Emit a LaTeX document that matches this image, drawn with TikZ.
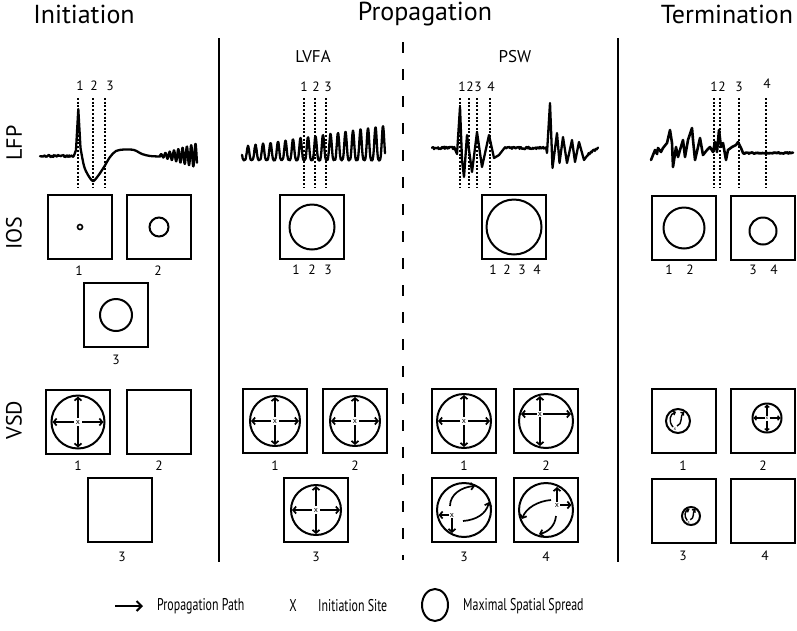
\documentclass[tikz,border=0pt]{standalone}
\usepackage{fontspec}
\setmainfont{PT Sans}
\newfontfamily\legfont[FakeStretch=0.70]{PT Sans}
\usetikzlibrary{arrows.meta}
\tikzset{
  panel/.style={draw, line width=2pt, minimum width=64pt, minimum height=64pt, inner sep=0pt, outer sep=0pt, anchor=north west},
  ring/.style={line width=2pt},
  trace/.style={line width=2.3pt, line join=round, line cap=round},
  marker/.style={line width=2pt, dash pattern=on 2pt off 1.7pt},
  sepline/.style={line width=2pt},
  title/.style={font=\fontsize{26}{30}\selectfont, inner sep=0pt},
  sub/.style={font=\fontsize{17}{20}\selectfont, inner sep=0pt},
  rowlab/.style={font=\fontsize{22}{25}\selectfont, rotate=90, inner sep=0pt},
  num/.style={font=\fontsize{13.5}{15}\selectfont, inner sep=0pt},
  parrow/.style={line width=1.7pt, -{Straight Barb[length=3pt,width=7pt]}},
  sarrow/.style={line width=1.4pt, -{Straight Barb[length=2pt,width=4.5pt]}},
  xmark/.style={font=\fontsize{8}{9}\selectfont, inner sep=0pt},
  leg/.style={font=\legfont\fontsize{17}{20}\selectfont, anchor=west, inner sep=0pt},
}
\newcommand\vsdcross[5]{%
  \begin{scope}[shift={(#2,#3)}]
    \node[xmark] (#1) at (0,0) {x};
    \draw[parrow] (#5,0) -- (#4,0);
    \draw[parrow] (-#5,0) -- (-#4,0);
    \draw[parrow] (0,#5) -- (0,#4);
    \draw[parrow] (0,-#5) -- (0,-#4);
  \end{scope}}
\begin{document}
\begin{tikzpicture}[x=1pt,y=-1pt,
  declare function={sp(\t)=(0.5+0.5*cos(\t))*(0.5+0.5*cos(\t));}]
\useasboundingbox (0,0) rectangle (797,630);

% ---------- headers ----------
\node[title] (hInit) at (84,14) {Initiation};
\node[title] (hProp) at (425,14) {Propagation};
\node[title] (hTerm) at (727,14) {Termination};
\node[sub] (hLVFA) at (313,57) {LVFA};
\node[sub] (hPSW) at (515,57) {PSW};

\node[rowlab] (rLFP) at (14,143) {LFP};
\node[rowlab] (rIOS) at (14,233) {IOS};
\node[rowlab] (rVSD) at (14,420) {VSD};

% ---------- separators ----------
\coordinate (s1t) at (219,38); \coordinate (s1b) at (219,562);
\coordinate (s2t) at (403,42); \coordinate (s2b) at (403,560);
\coordinate (s3t) at (618,38); \coordinate (s3b) at (618,562);
\draw[sepline] (s1t) -- (s1b);
\draw[sepline, dash pattern=on 11pt off 16pt] (s2t) -- (s2b);
\draw[sepline] (s3t) -- (s3b);

% ---------- LFP traces ----------
% Initiation
\draw[trace] plot[domain=40:74,samples=50] (\x,{156+1.1*rand})
  -- (76,150) -- (78.3,109) -- (80.5,148)
  -- plot[smooth] coordinates {(80.5,148) (84,166) (88,175) (93,181) (98,176) (104,167) (110,157) (116,151) (124,149.5) (134,150) (142,154) (150,156) (160,156.5)}
  -- plot[domain=160:197,samples=300] (\x,{155.5-(1+11*(\x-160)/37)*sin(83.72*(\x-160))});
% LVFA
\draw[trace] plot[domain=242:385,samples=600] (\x,{160-(13+21*(\x-242)/143)*sp(48*(\x-248))+0.5*rand});
% PSW
\draw[trace] plot[domain=432:455,samples=35] (\x,{148+1.3*rand})
  -- (457,154) -- (460,107) -- (462,160) -- (464,177) -- (467,135) -- (472,172)
  -- (477,132) -- (482,167) -- (489,135) -- (494,158) -- (499,155)
  -- plot[domain=505:546,samples=60] (\x,{148+1.2*rand})
  -- (547,153) -- (550,103) -- (552.5,168) -- (557,133) -- (559.5,163) -- (563,137)
  -- (567,163) -- (572,140) -- (575,162) -- (579,142) -- (584,160)
  -- plot[domain=587:598,samples=15] (\x,{155-7*(\x-587)/11+1*rand});
% Termination
\draw[trace, line width=2.6pt] (651,160) -- (655,150) -- (657,154) -- (658,148) -- (661,152) -- (663,148)
  -- (667,143) -- (670,130) -- (672,143) -- (673,167) -- (676,147) -- (678,157) -- (680,150)
  -- (683,140) -- (685,157) -- (688,140) -- (692,128) -- (693,140) -- (695,160) -- (698,147)
  -- (700,138) -- (703,155) -- (707,150) -- (710,147) -- (713,152) -- (715,142) -- (717,152)
  -- (719,130) -- (721,147) -- (723,143) -- (726,160) -- (728,150) -- (732,147) -- (736,145)
  -- (738,142) -- (741,148) -- (743,153)
  -- plot[domain=744:793,samples=60] (\x,{153+0.7*rand});

% ---------- LFP markers ----------
\foreach \n/\xm/\xl in {1/78.3/80, 2/92.7/94, 3/105.3/110}{
  \coordinate (mA\n t) at (\xm,98); \coordinate (mA\n b) at (\xm,187);
  \draw[marker] (mA\n t) -- (mA\n b);
  \node[num] (lA\n) at (\xl,86) {\n};}
\foreach \n/\xm/\xl in {1/304/304, 2/315/316, 3/326/328}{
  \coordinate (mL\n t) at (\xm,98); \coordinate (mL\n b) at (\xm,187);
  \draw[marker] (mL\n t) -- (mL\n b);
  \node[num] (lL\n) at (\xl,87) {\n};}
\foreach \n/\xm/\xl in {1/460/462, 2/469/470, 3/477/478, 4/490/491}{
  \coordinate (mP\n t) at (\xm,98); \coordinate (mP\n b) at (\xm,187);
  \draw[marker] (mP\n t) -- (mP\n b);
  \node[num] (lP\n) at (\xl,87) {\n};}
\foreach \n/\xm/\xl/\yl in {1/714.3/714/87, 2/720/722/87, 3/739.3/739/87, 4/765.7/767/84}{
  \coordinate (mT\n t) at (\xm,98); \coordinate (mT\n b) at (\xm,187);
  \draw[marker] (mT\n t) -- (mT\n b);
  \node[num] (lT\n) at (\xl,\yl) {\n};}

% ---------- IOS ----------
\node[panel] (iA1) at (48,195) {};
\node[panel] (iA2) at (127,195) {};
\node[panel] (iA3) at (84,283) {};
\node[panel] (iL) at (280,195) {};
\node[panel] (iP) at (482,195) {};
\node[panel] (iT1) at (652,196) {};
\node[panel] (iT2) at (731,196) {};
\draw[ring, line width=1.6pt] (iA1.center) circle[radius=2.5pt];
\draw[ring] (iA2.center) circle[radius=9.5pt];
\draw[ring] (iA3.center) circle[radius=16pt];
\draw[ring] (iL.center) circle[radius=22.5pt];
\draw[ring] (iP.center) circle[radius=27.5pt];
\draw[ring] (iT1.center) circle[radius=20.5pt];
\coordinate (iT2c) at (763,231);
\draw[ring] (iT2c) circle[radius=13.5pt];
\node[num] (niA1) at (79,271) {1};
\node[num] (niA2) at (158,271) {2};
\node[num] (niA3) at (116,360) {3};
\node[num] (niL1) at (296,270) {1};
\node[num] (niL2) at (312,270) {2};
\node[num] (niL3) at (328,270) {3};
\node[num] (niP1) at (493,270) {1};
\node[num] (niP2) at (507,270) {2};
\node[num] (niP3) at (522,270) {3};
\node[num] (niP4) at (537,270) {4};
\node[num] (niT1) at (669,270) {1};
\node[num] (niT2) at (690,270) {2};
\node[num] (niT3) at (753,270) {3};
\node[num] (niT4) at (774,270) {4};

% ---------- VSD ----------
\node[panel] (vA1) at (46,390) {};
\node[panel] (vA2) at (127,390) {};
\node[panel] (vA3) at (88,478) {};
\node[panel] (vL1) at (243,389) {};
\node[panel] (vL2) at (323,389) {};
\node[panel] (vL3) at (284,478) {};
\node[panel] (vP1) at (432,389) {};
\node[panel] (vP2) at (514,389) {};
\node[panel] (vP3) at (432,478) {};
\node[panel] (vP4) at (514,478) {};
\node[panel] (vT1) at (652,389) {};
\node[panel] (vT2) at (731,389) {};
\node[panel] (vT3) at (652,479) {};
\node[panel] (vT4) at (731,479) {};

\draw[ring] (vA1.center) circle[radius=26.5pt];
\vsdcross{xA1}{78}{422}{25.5}{4}
\draw[ring] (vL1.center) circle[radius=25pt];
\vsdcross{xL1}{275}{421}{24}{4}
\draw[ring] (vL2.center) circle[radius=25pt];
\vsdcross{xL2}{355}{421}{24}{4}
\draw[ring] (vL3.center) circle[radius=25pt];
\vsdcross{xL3}{316}{510}{24}{4}
\draw[ring] (vP1.center) circle[radius=27pt];
\vsdcross{xP1}{464}{421}{26}{4}

\draw[ring] (vP2.center) circle[radius=27pt];
\begin{scope}[shift={(546,421)}]
  \node[xmark] (xP2) at (-6,-7) {x};
  \draw[parrow] (-6,-10) -- (-6,-25);
  \draw[parrow] (-6,-4) -- (-6,25);
  \draw[parrow] (-9,-7) -- (-25,-7);
  \draw[parrow] (-3,-7) -- (25,-7);
\end{scope}

\draw[ring] (vP3.center) circle[radius=27pt];
\begin{scope}[shift={(464,510)}]
  \node[xmark] (xP3) at (-12,5) {x};
  \draw[parrow] (-15,5) -- (-25.5,5);
  \draw[parrow] (-12,8) -- (-12,23);
  \draw[parrow] (-14,-4) .. controls (-14,-16) and (-2,-23) .. (11,-24);
  \draw[parrow] (-1,11) .. controls (12,10) and (22,4) .. (25,-8);
\end{scope}

\draw[ring] (vP4.center) circle[radius=27pt];
\begin{scope}[shift={(546,510)}]
  \node[xmark] (xP4) at (11,-5) {x};
  \draw[parrow] (11,-8) -- (11,-23);
  \draw[parrow] (14,-5) -- (25.5,-5);
  \draw[parrow] (5,-10) .. controls (-8,-9) and (-20,-2) .. (-24,9);
  \draw[parrow] (10,6) .. controls (9,16) and (2,22) .. (-7,24);
\end{scope}

\draw[ring] (678,421) circle[radius=12pt];
\begin{scope}[shift={(678,421)}]
  \node[xmark, font=\fontsize{5}{6}\selectfont] (xT1) at (-3,8) {x};
  \draw[sarrow] (-5,6) .. controls (-10,0) and (-8,-7) .. (-2,-9);
  \draw[sarrow] (-1,5) .. controls (5,3) and (2,-5) .. (6,-9);
\end{scope}

\draw[ring] (767,418) circle[radius=14.5pt];
\begin{scope}[shift={(767,418)}]
  \node[xmark, font=\fontsize{5}{6}\selectfont] (xT2) at (0,0) {x};
  \draw[sarrow] (2.5,0) -- (13.5,0);
  \draw[sarrow] (-2.5,0) -- (-13.5,0);
  \draw[sarrow] (0,2.5) -- (0,13.5);
  \draw[sarrow] (0,-2.5) -- (0,-13.5);
\end{scope}

\draw[ring] (691,516) circle[radius=9pt];
\begin{scope}[shift={(691,516)}, scale=0.75]
  \node[xmark, font=\fontsize{4}{5}\selectfont] (xT3) at (-3,8) {x};
  \draw[sarrow] (-5,6) .. controls (-10,0) and (-8,-7) .. (-2,-9);
  \draw[sarrow] (-1,5) .. controls (5,3) and (2,-5) .. (6,-9);
\end{scope}

\node[num] (nvA1) at (78,466) {1};
\node[num] (nvA2) at (159,466) {2};
\node[num] (nvA3) at (122,557) {3};
\node[num] (nvL1) at (275,466) {1};
\node[num] (nvL2) at (355,466) {2};
\node[num] (nvL3) at (316,557) {3};
\node[num] (nvP1) at (464,466) {1};
\node[num] (nvP2) at (546,466) {2};
\node[num] (nvP3) at (464,557) {3};
\node[num] (nvP4) at (546,557) {4};
\node[num] (nvT1) at (683,466) {1};
\node[num] (nvT2) at (763,466) {2};
\node[num] (nvT3) at (683,556) {3};
\node[num] (nvT4) at (765,556) {4};

% ---------- legend ----------
\coordinate (la0) at (115,606);
\coordinate (la1) at (143,606);
\draw[line width=2pt, -{Straight Barb[length=5pt,width=10pt]}] (la0) -- (la1);
\node[leg] (legA) at (157,606) {Propagation Path};
\node[leg, anchor=center] (legX) at (293,606) {X};
\node[leg] (legB) at (318,606) {Initiation Site};
\coordinate (legC) at (435,605);
\draw[ring] (legC) circle[x radius=13pt, y radius=16pt];
\node[leg] (legD) at (463,606) {Maximal Spatial Spread};
\end{tikzpicture}
\end{document}
